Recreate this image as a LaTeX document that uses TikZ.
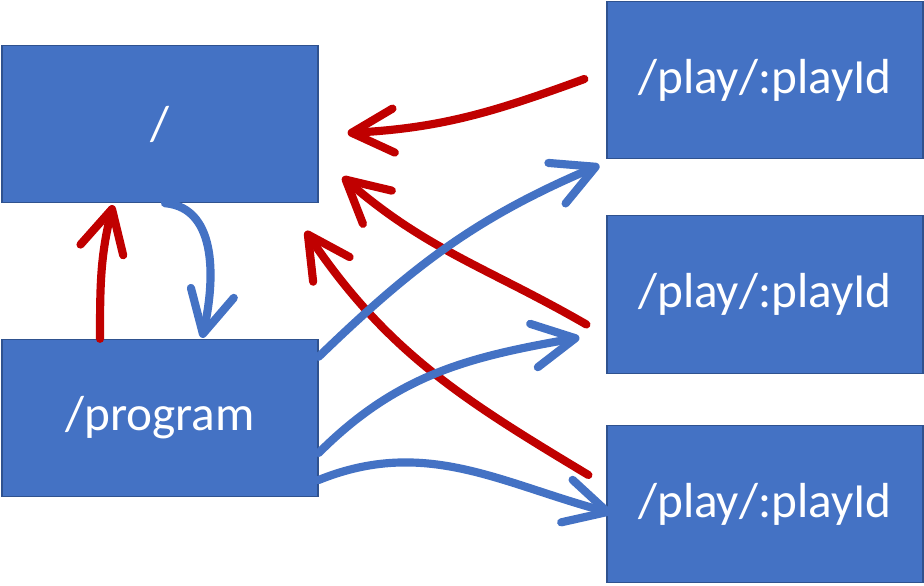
\documentclass[tikz,border=0pt]{standalone}
\usepackage{fontspec}
\usepackage{tikz}
\usetikzlibrary{arrows.meta,calc}
\newfontfamily\boxfont{Carlito}
\definecolor{boxfill}{HTML}{4472C4}
\definecolor{boxline}{HTML}{2F528F}
\definecolor{backcol}{HTML}{C00000}
\definecolor{fwdcol}{HTML}{4472C4}

\tikzset{
  route/.style={draw=boxline, line width=0.8pt, fill=boxfill, text=white,
    minimum width=7.9cm, minimum height=3.93cm, inner sep=0pt,
    font=\boxfont\fontsize{35}{42}\selectfont},
  link/.style={line width=5.8pt, line cap=round,
    -{Straight Barb[length=1.05cm, width=1.1cm, round]}},
  back/.style={link, backcol},
  fwd/.style={link, fwdcol}
}

\begin{document}
\begin{tikzpicture}[x=0.025cm, y=-0.025cm]
\useasboundingbox (0,0) rectangle (924,585);

% routes
\node[route] (root) at (160,124) {/};
\node[route] (program) at (160,418) {/program};
\node[route] (play1) at (765,80) {/play/:playId};
\node[route] (play2) at (765,294.5) {/play/:playId};
\node[route] (play3) at (765,504) {/play/:playId};

% between / and /program
\draw[back] ($(program.north)+(-60,0)$) to[out=90, in=-104] ($(root.south)+(-47,2)$);
\draw[fwd] ($(root.south)+(5,0)$) to[out=-5, in=77] ($(program.north)+(42,-1)$);

% back from the plays
\draw[back] ($(play1.west)+(-22,-1)$) to[out=200, in=3] ($(root.east)+(29,9)$);
\draw[back] ($(play2.west)+(-20,30)$) to[out=150, in=-41] ($(root.east)+(24,53)$);
\draw[back] ($(play3.west)+(-18,-29)$) to[out=149, in=-56] ($(root.south east)+(-13,28)$);

% on to the plays
\draw[fwd] ($(program.north east)+(0,18)$) to[out=44, in=203] ($(play1.south west)+(-7,6)$);
\draw[fwd] ($(program.east)+(0,35)$) to[out=45, in=190] ($(play2.west)+(-27,43)$);
\draw[fwd] ($(program.east)+(0,62)$) to[out=22, in=165] ($(play3.west)+(5,9)$);
\end{tikzpicture}
\end{document}
